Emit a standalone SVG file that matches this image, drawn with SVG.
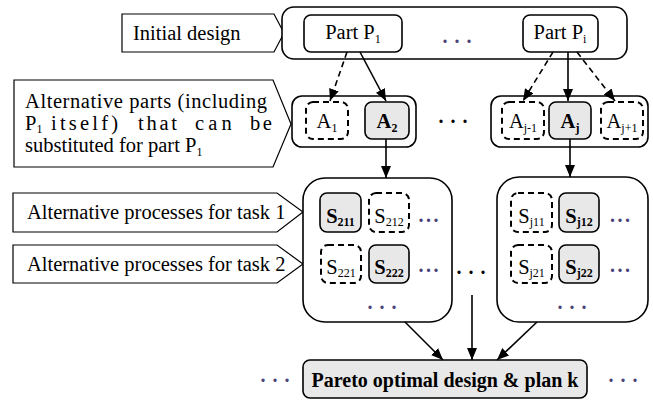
<svg xmlns="http://www.w3.org/2000/svg" width="653" height="401" viewBox="0 0 653 401">
  <style>
    text { font-family: "Liberation Serif", "Times New Roman", serif; font-size: 20.5px; fill: #000; }
    .b { font-weight: bold; }
    .sub { font-size: 12px; }
    .frame { fill: #fff; stroke: #000; stroke-width: 1.6; }
    .callout { fill: #fff; stroke: #000; stroke-width: 1.2; }
    .sel { fill: #e8e8e8; stroke: #000; stroke-width: 1.6; }
    .alt { fill: #fff; stroke: #000; stroke-width: 2; stroke-dasharray: 6 4; }
    .edge { fill: none; stroke: #000; stroke-width: 1.6; }
    .dash { stroke-dasharray: 6 4; }
    .dots { font-size: 20px; font-weight: bold; letter-spacing: 7px; fill: #000; }
    .navy { fill: #4a4278; }
    .tight { letter-spacing: 2.5px; }
  </style>
  <defs>
    <marker id="arrow" viewBox="0 0 12 10" refX="12" refY="5" markerWidth="12" markerHeight="10" markerUnits="userSpaceOnUse" orient="auto">
      <path d="M0,0 L12,5 L0,10 Z" fill="#000"/>
    </marker>
  </defs>
  <rect width="653" height="401" fill="#fff"/>

  <!-- side labels -->
  <g id="label-initial">
    <path class="callout" d="M122,14 H274 L284,33 L274,52 H122 Z"/>
    <text x="133" y="40">Initial design</text>
  </g>
  <g id="label-alt-parts">
    <path class="callout" d="M14,80 H273 L291,124 L273,167 H14 Z"/>
    <text x="25" y="108" textLength="242" lengthAdjust="spacing">Alternative parts (including</text>
    <!-- justified middle line: words placed one by one -->
    <text y="130"><tspan x="25">P</tspan><tspan class="sub" dy="2.5">1</tspan><tspan x="51" dy="-2.5" letter-spacing="3.2">itself)</tspan><tspan x="138" letter-spacing="2.75">that</tspan><tspan x="195" letter-spacing="4.2">can</tspan><tspan x="250" letter-spacing="2.6">be</tspan></text>
    <text x="25" y="152">substituted for part P<tspan class="sub" dy="4">1</tspan></text>
  </g>
  <g id="label-task1">
    <path class="callout" d="M13,193 H277 L303,212 L277,232 H13 Z"/>
    <text x="27" y="219">Alternative processes for task 1</text>
  </g>
  <g id="label-task2">
    <path class="callout" d="M13,245 H277 L303,264 L277,283 H13 Z"/>
    <text x="27" y="271">Alternative processes for task 2</text>
  </g>

  <!-- initial design: parts -->
  <g id="initial-design">
    <rect class="frame" x="282" y="7" width="345" height="52" rx="12"/>
    <text class="dots navy" x="442.6" y="42.5">...</text>
  </g>
  <g id="part-p1">
    <rect class="frame" x="304" y="15" width="98" height="37" rx="7"/>
    <text x="353" y="39" text-anchor="middle">Part P<tspan class="sub" dy="4">1</tspan></text>
  </g>
  <g id="part-pi">
    <rect class="frame" x="523" y="15" width="75" height="37" rx="7"/>
    <text x="560" y="39" text-anchor="middle">Part P<tspan class="sub" dy="4">i</tspan></text>
  </g>

  <!-- alternative parts -->
  <g id="alt-parts-1">
    <rect class="frame" x="292" y="96" width="124" height="51" rx="10"/>
  </g>
  <g id="a1">
    <rect class="alt" x="306" y="102" width="42" height="37" rx="7"/>
    <text x="327" y="128" text-anchor="middle">A<tspan class="sub" dy="4">1</tspan></text>
  </g>
  <g id="a2">
    <rect class="sel" x="365" y="102" width="44" height="37" rx="7"/>
    <text class="b" x="387" y="128" text-anchor="middle">A<tspan class="sub" dy="4">2</tspan></text>
  </g>
  <text class="dots" x="438.6" y="122.5">...</text>
  <g id="alt-parts-j">
    <rect class="frame" x="491" y="96" width="157" height="51" rx="10"/>
  </g>
  <g id="aj-1">
    <rect class="alt" x="502" y="102" width="42" height="37" rx="7"/>
    <text x="523" y="128" text-anchor="middle">A<tspan class="sub" dy="4">j-1</tspan></text>
  </g>
  <g id="aj">
    <rect class="sel" x="549" y="102" width="42" height="37" rx="7"/>
    <text class="b" x="570" y="128" text-anchor="middle">A<tspan class="sub" dy="4">j</tspan></text>
  </g>
  <g id="aj+1">
    <rect class="alt" x="601" y="102" width="42" height="37" rx="7"/>
    <text x="622" y="128" text-anchor="middle">A<tspan class="sub" dy="4">j+1</tspan></text>
  </g>

  <!-- alternative processes for part A2 -->
  <g id="processes-2">
    <rect class="frame" x="303" y="178" width="149" height="144" rx="22"/>
    <text class="dots navy tight" x="418.6" y="221.5">...</text>
    <text class="dots navy tight" x="418.6" y="271.5">...</text>
    <text class="dots navy" x="367.6" y="308.5">...</text>
  </g>
  <g id="s211">
    <rect class="sel" x="320" y="193" width="41" height="39" rx="7"/>
    <text class="b" x="340.5" y="223" text-anchor="middle">S<tspan class="sub" dy="3">211</tspan></text>
  </g>
  <g id="s212">
    <rect class="alt" x="369" y="193" width="40" height="39" rx="7"/>
    <text x="389" y="223" text-anchor="middle">S<tspan class="sub" dy="3">212</tspan></text>
  </g>
  <g id="s221">
    <rect class="alt" x="321" y="245" width="40" height="38" rx="7"/>
    <text x="341" y="274" text-anchor="middle">S<tspan class="sub" dy="3">221</tspan></text>
  </g>
  <g id="s222">
    <rect class="sel" x="369" y="245" width="40" height="38" rx="7"/>
    <text class="b" x="389" y="274" text-anchor="middle">S<tspan class="sub" dy="3">222</tspan></text>
  </g>
  <text class="dots" x="456.6" y="273.5">...</text>

  <!-- alternative processes for part Aj -->
  <g id="processes-j">
    <rect class="frame" x="497" y="177" width="151" height="145" rx="22"/>
    <text class="dots navy tight" x="610.1" y="221.5">...</text>
    <text class="dots navy tight" x="610.1" y="271.5">...</text>
    <text class="dots navy" x="557.6" y="308.5">...</text>
  </g>
  <g id="sj11">
    <rect class="alt" x="511" y="193" width="41" height="39" rx="7"/>
    <text x="531.5" y="223" text-anchor="middle">S<tspan class="sub" dy="3">j11</tspan></text>
  </g>
  <g id="sj12">
    <rect class="sel" x="559" y="193" width="40" height="39" rx="7"/>
    <text class="b" x="579" y="223" text-anchor="middle">S<tspan class="sub" dy="3">j12</tspan></text>
  </g>
  <g id="sj21">
    <rect class="alt" x="511" y="245" width="41" height="38" rx="7"/>
    <text x="531.5" y="274" text-anchor="middle">S<tspan class="sub" dy="3">j21</tspan></text>
  </g>
  <g id="sj22">
    <rect class="sel" x="559" y="245" width="40" height="38" rx="7"/>
    <text class="b" x="579" y="274" text-anchor="middle">S<tspan class="sub" dy="3">j22</tspan></text>
  </g>

  <!-- result -->
  <g id="pareto">
    <rect class="sel" x="303" y="360" width="284" height="38" rx="7"/>
    <text class="b" x="445" y="387" text-anchor="middle" style="font-size:20px">Pareto optimal design &amp; plan k</text>
  </g>
  <text class="dots navy" x="260.6" y="381.5">...</text>
  <text class="dots navy" x="608.6" y="381.5">...</text>

  <!-- connectors -->
  <g id="connectors">
    <line class="edge dash" x1="347" y1="52" x2="330" y2="101" marker-end="url(#arrow)"/>
    <line class="edge" x1="360" y1="52" x2="386" y2="101" marker-end="url(#arrow)"/>
    <line class="edge dash" x1="553" y1="52" x2="523" y2="101" marker-end="url(#arrow)"/>
    <line class="edge" x1="568" y1="52" x2="568" y2="101" marker-end="url(#arrow)"/>
    <line class="edge dash" x1="577" y1="52" x2="615" y2="101" marker-end="url(#arrow)"/>
    <line class="edge" x1="386" y1="139" x2="386" y2="178" marker-end="url(#arrow)"/>
    <line class="edge" x1="570" y1="139" x2="570" y2="177" marker-end="url(#arrow)"/>
    <line class="edge" x1="405" y1="322" x2="443" y2="360" marker-end="url(#arrow)"/>
    <line class="edge" x1="472" y1="295" x2="472" y2="360" marker-end="url(#arrow)"/>
    <line class="edge" x1="537" y1="322" x2="497" y2="360" marker-end="url(#arrow)"/>
  </g>
</svg>
